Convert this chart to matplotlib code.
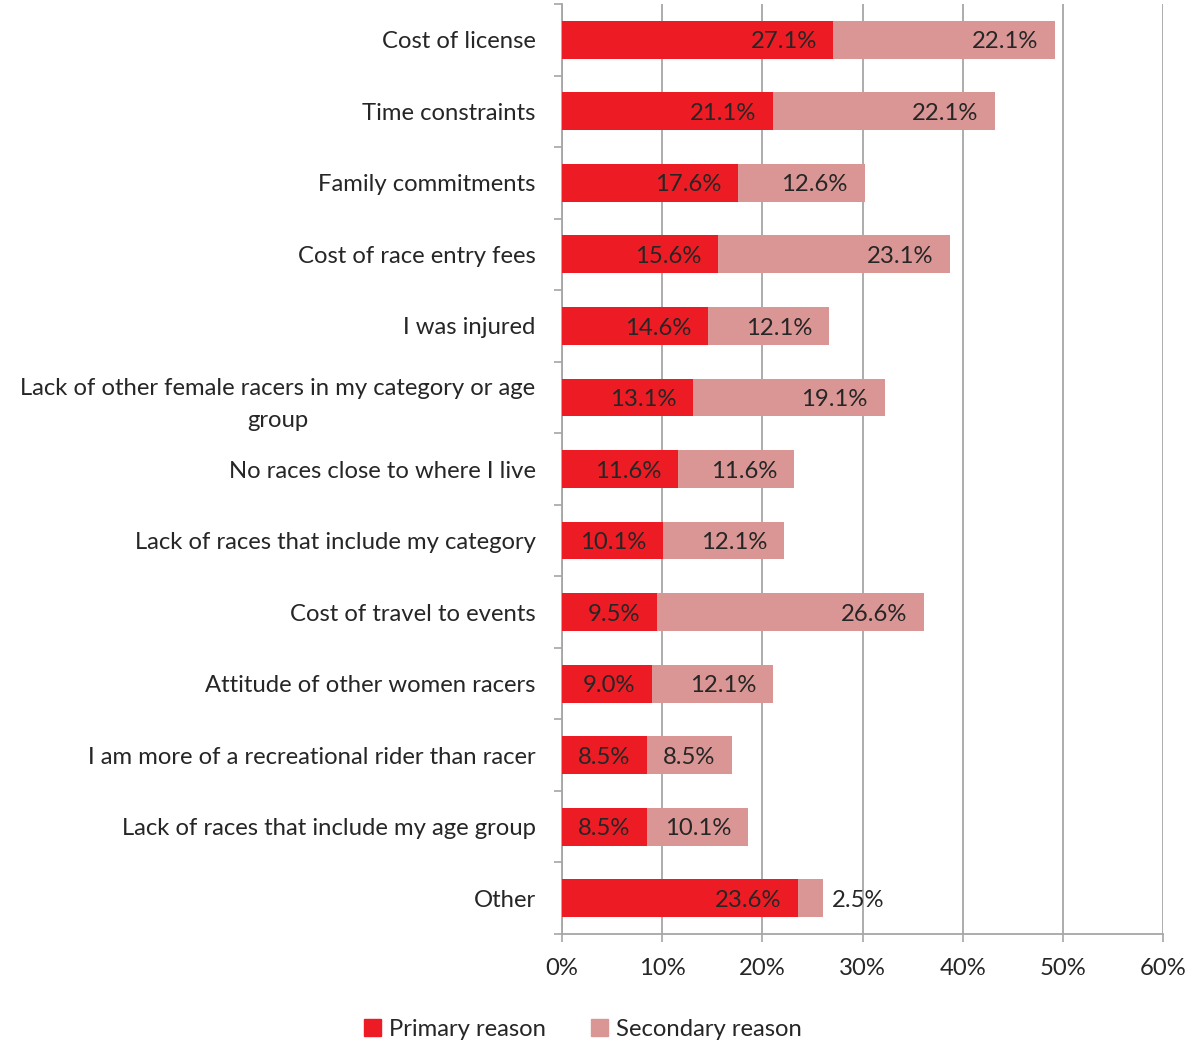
import numpy as np
import matplotlib.pyplot as plt
from matplotlib.patches import Patch

plt.rcParams['font.family'] = ['Lato', 'DejaVu Sans']

reasons = [
    'Cost of license',
    'Time constraints',
    'Family commitments',
    'Cost of race entry fees',
    'I was injured',
    'Lack of other female racers in my category or age\ngroup',
    'No races close to where I live',
    'Lack of races that include my category',
    'Cost of travel to events',
    'Attitude of other women racers',
    'I am more of a recreational rider than racer',
    'Lack of races that include my age group',
    'Other',
]
primary = [27.1, 21.1, 17.6, 15.6, 14.6, 13.1, 11.6, 10.1, 9.5, 9.0, 8.5, 8.5, 23.6]
secondary = [22.1, 22.1, 12.6, 23.1, 12.1, 19.1, 11.6, 12.1, 26.6, 12.1, 8.5, 10.1, 2.5]

red = '#ED1C24'
pink = '#D99694'
grid_c = '#A6A6A6'
text_c = '#262626'
fs = 17.2

fig = plt.figure(figsize=(11.88, 10.46), dpi=100)
ax = fig.add_axes([562 / 1188, 1 - 934 / 1046, (1163 - 562) / 1188, (934 - 4) / 1046])

n = len(reasons)
y = np.arange(n)
bar_h = 0.53
p = np.array(primary)
s = np.array(secondary)

ax.barh(y, p, height=bar_h, color=red, zorder=3)
ax.barh(y, s, left=p, height=bar_h, color=pink, zorder=3)

for i in range(n):
    ax.annotate(f'{primary[i]:.1f}%', xy=(p[i], y[i]), xytext=(-12, -1.5),
                textcoords='offset points', ha='right', va='center',
                fontsize=fs, color=text_c, zorder=4)
    tot = p[i] + s[i]
    if s[i] < 5:
        ax.annotate(f'{secondary[i]:.1f}%', xy=(tot, y[i]), xytext=(6, -1.5),
                    textcoords='offset points', ha='left', va='center',
                    fontsize=fs, color=text_c, zorder=4)
    else:
        ax.annotate(f'{secondary[i]:.1f}%', xy=(tot, y[i]), xytext=(-12, -1.5),
                    textcoords='offset points', ha='right', va='center',
                    fontsize=fs, color=text_c, zorder=4)

ax.set_xlim(0, 60)
ax.set_ylim(n - 0.5, -0.5)

ax.set_xticks(np.arange(0, 61, 10))
ax.set_xticklabels([f'{v}%' for v in range(0, 61, 10)], fontsize=fs, color=text_c)
ax.tick_params(axis='x', length=6, width=1.2, color=grid_c, pad=11)

ax.set_yticks(y)
ax.set_yticklabels(reasons, fontsize=fs, color=text_c, multialignment='center', linespacing=1.6)
ax.set_yticks(np.arange(-0.5, n, 1), minor=True)
ax.tick_params(axis='y', which='major', length=0, pad=19)
ax.tick_params(axis='y', which='minor', length=6, width=1.2, color=grid_c, direction='out')

ax.grid(axis='x', color=grid_c, linewidth=1.3, zorder=0)
for side in ['top', 'right']:
    ax.spines[side].set_visible(False)
for side in ['left', 'bottom']:
    ax.spines[side].set_color(grid_c)
    ax.spines[side].set_linewidth(1.3)

handles = [Patch(color=red, label='Primary reason'), Patch(color=pink, label='Secondary reason')]
fig.legend(handles=handles, loc='center', bbox_to_anchor=(583 / 1188, 1 - 1029 / 1046),
           ncol=2, frameon=False, fontsize=fs, handlelength=0.7, handleheight=0.7,
           handletextpad=0.35, columnspacing=1.9, labelcolor=text_c)

fig.savefig('out.png', dpi=100)
